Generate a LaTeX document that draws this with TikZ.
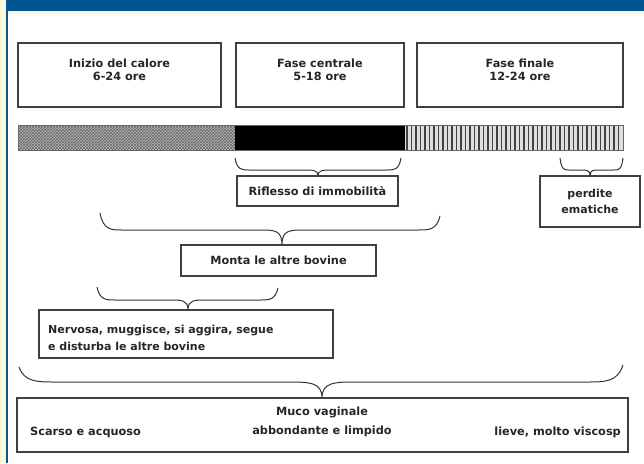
\documentclass[tikz,border=0pt]{standalone}
\usepackage{fontspec}
\setmainfont{DejaVu Sans}
\usetikzlibrary{patterns}
\definecolor{hdrblue}{HTML}{00568E}
\definecolor{cream}{HTML}{FFF5DC}
\newcommand{\bracedn}[8]{%
  \draw[brc] (#1,#2) .. controls ({#1+0.15*#8},#5) and ({#1+0.5*#8},#5) .. ({#1+#8},#5)
    -- ({#6-#8},#5) .. controls ({#6-0.35*#8},#5) and (#6,#5) .. (#6,#7)
    .. controls (#6,#5) and ({#6+0.35*#8},#5) .. ({#6+#8},#5)
    -- ({#3-#8},#5) .. controls ({#3-0.5*#8},#5) and ({#3-0.15*#8},#5) .. (#3,#4);}
\tikzset{
  box/.style={draw=black!75,line width=1.1pt,fill=white,inner sep=0pt},
  lbl/.style={font=\bfseries\fontsize{11.3}{13}\selectfont,align=center,inner sep=0pt,text=black!85},
  lblw/.style={lbl,font=\bfseries\fontsize{11}{17}\selectfont},
  brc/.style={draw=black!80,line width=1pt}
}
\begin{document}
\begin{tikzpicture}[x=1pt,y=-1pt]
\useasboundingbox (0,0) rectangle (644,463);
\fill[white] (0,0) rectangle (644,463);
% frame
\fill[cream] (0,0) rectangle (6,463);
\fill[hdrblue] (6,0) rectangle (644,11);
\fill[hdrblue] (6,0) rectangle (8,463);
\fill[cream] (8,11) rectangle (644,14);
% top boxes
\draw[box] (18,43) rectangle (221,107);
\draw[box] (236,43) rectangle (404,107);
\draw[box] (417,43) rectangle (623,107);
\node[lbl] (t1) at (119.5,70) {Inizio del calore\\6-24 ore};
\node[lbl] (t2) at (320,70) {Fase centrale\\5-18 ore};
\node[lbl] (t3) at (520,70) {Fase finale\\12-24 ore};
% bar
\fill[gray!55] (18,125) rectangle (235,150);
\fill[pattern=crosshatch,pattern color=black!60] (18,125) rectangle (235,150);
\fill[black] (235,125) rectangle (405,150);
\fill[gray!25] (405,125) rectangle (623,150);
\foreach \x in {407,411.5,...,621}{\draw[black!75,line width=1.4pt] (\x,125) -- (\x,150);}
\draw[black!60,line width=0.6pt] (18,125) rectangle (623,150);
% braces
\bracedn{235}{158}{401}{158}{170}{318}{176}{14}
\coordinate (b1) at (318,176);
\bracedn{560}{158}{623}{158}{170}{590}{176}{9}
\coordinate (b2) at (590,176);
\bracedn{100}{213}{440}{216}{230}{282}{245}{22}
\coordinate (b3) at (282,245);
\bracedn{97}{287}{278}{288}{300}{188}{310}{18}
\coordinate (b4) at (188,310);
\bracedn{19}{367}{623}{365}{382}{322}{398}{36}
\coordinate (b5) at (322,398);
% middle boxes
\draw[box] (237,176) rectangle (398,206);
\node[lbl] (rif) at (317.5,191) {Riflesso di immobilità};
\draw[box] (540,176) rectangle (640,227);
\node[lbl,font=\bfseries\fontsize{11}{16}\selectfont] (per) at (590,201.5) {perdite\\ematiche};
\draw[box] (181,245) rectangle (376,276);
\node[lbl] (mon) at (278.5,260.5) {Monta le altre bovine};
\draw[box] (39,310) rectangle (333,358);
\node[lblw,align=left,anchor=west] (ner) at (48,338) {Nervosa, muggisce, si aggira, segue\\e disturba le altre bovine};
% bottom box
\draw[box] (17,398) rectangle (628,452);
\node[lbl] (muco) at (322,412) {Muco vaginale};
\node[lbl] (abb) at (322,431) {abbondante e limpido};
\node[lbl,anchor=west] (sca) at (30,432) {Scarso e acquoso};
\node[lbl,anchor=east] (lie) at (621,432) {lieve, molto viscosp};
\end{tikzpicture}
\end{document}
